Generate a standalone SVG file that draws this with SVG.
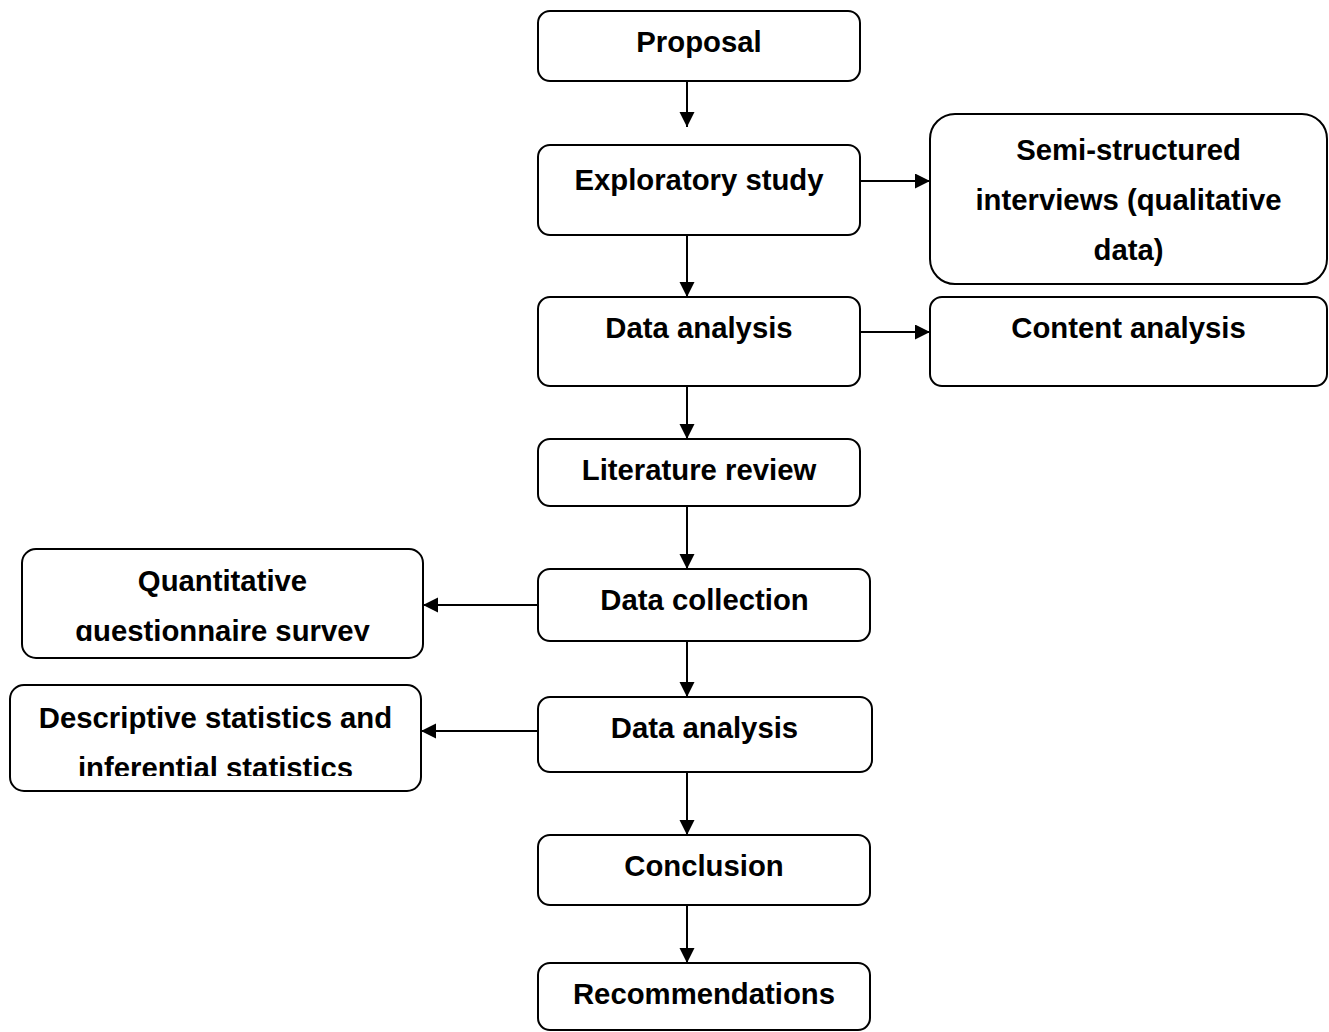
<svg xmlns="http://www.w3.org/2000/svg" width="1329" height="1032" viewBox="0 0 1329 1032">
<style>
.box{fill:#fff;stroke:#000;stroke-width:2}
.t{font-family:"Liberation Sans",Arial,sans-serif;font-weight:bold;font-size:29.3px;fill:#000;text-anchor:middle}
.c{stroke:#000;stroke-width:2;fill:none}
</style>
<defs>
<marker id="ah" markerUnits="userSpaceOnUse" markerWidth="16" markerHeight="16" refX="15" refY="7.5" orient="auto">
<path d="M0,0 L15,7.5 L0,15 Z" fill="#000"/>
</marker>
<clipPath id="clipQ"><rect x="22" y="549" width="401" height="92"/></clipPath>
<clipPath id="clipD"><rect x="10" y="685" width="411" height="91"/></clipPath>
</defs>
<rect width="1329" height="1032" fill="#fff"/>
<g id="connectors">
<line class="c" x1="687" y1="81" x2="687" y2="127" marker-end="url(#ah)"/>
<line class="c" x1="687" y1="235" x2="687" y2="297" marker-end="url(#ah)"/>
<line class="c" x1="687" y1="386" x2="687" y2="439" marker-end="url(#ah)"/>
<line class="c" x1="687" y1="506" x2="687" y2="569" marker-end="url(#ah)"/>
<line class="c" x1="687" y1="641" x2="687" y2="697" marker-end="url(#ah)"/>
<line class="c" x1="687" y1="772" x2="687" y2="835" marker-end="url(#ah)"/>
<line class="c" x1="687" y1="905" x2="687" y2="963" marker-end="url(#ah)"/>
<line class="c" x1="860" y1="181" x2="930" y2="181" marker-end="url(#ah)"/>
<line class="c" x1="860" y1="332" x2="930" y2="332" marker-end="url(#ah)"/>
<line class="c" x1="538" y1="605" x2="423" y2="605" marker-end="url(#ah)"/>
<line class="c" x1="538" y1="731" x2="421" y2="731" marker-end="url(#ah)"/>
</g>
<g id="proposal"><rect class="box" x="538" y="11" width="322" height="70" rx="12"/><text class="t" x="699" y="52">Proposal</text></g>
<g id="exploratory"><rect class="box" x="538" y="145" width="322" height="90" rx="12"/><text class="t" x="699" y="190">Exploratory study</text></g>
<g id="semi"><rect class="box" x="930" y="114" width="397" height="170" rx="25"/><text class="t" x="1128.5" y="160">Semi-structured</text><text class="t" x="1128.5" y="210">interviews (qualitative</text><text class="t" x="1128.5" y="260">data)</text></g>
<g id="analysis1"><rect class="box" x="538" y="297" width="322" height="89" rx="12"/><text class="t" x="699" y="338">Data analysis</text></g>
<g id="content"><rect class="box" x="930" y="297" width="397" height="89" rx="12"/><text class="t" x="1128.5" y="338">Content analysis</text></g>
<g id="literature"><rect class="box" x="538" y="439" width="322" height="67" rx="12"/><text class="t" x="699" y="480">Literature review</text></g>
<g id="collection"><rect class="box" x="538" y="569" width="332" height="72" rx="12"/><text class="t" x="704.5" y="610">Data collection</text></g>
<g id="quantitative"><rect class="box" x="22" y="549" width="401" height="109" rx="14"/><g clip-path="url(#clipQ)"><text class="t" x="222.5" y="591">Quantitative</text><text class="t" x="222.5" y="641">questionnaire survey</text></g></g>
<g id="analysis2"><rect class="box" x="538" y="697" width="334" height="75" rx="12"/><text class="t" x="704.5" y="738">Data analysis</text></g>
<g id="descriptive"><rect class="box" x="10" y="685" width="411" height="106" rx="14"/><g clip-path="url(#clipD)"><text class="t" x="215.5" y="728">Descriptive statistics and</text><text class="t" x="215.5" y="778">inferential statistics</text></g></g>
<g id="conclusion"><rect class="box" x="538" y="835" width="332" height="70" rx="12"/><text class="t" x="704" y="876">Conclusion</text></g>
<g id="recommendations"><rect class="box" x="538" y="963" width="332" height="67" rx="12"/><text class="t" x="704" y="1004">Recommendations</text></g>
</svg>
